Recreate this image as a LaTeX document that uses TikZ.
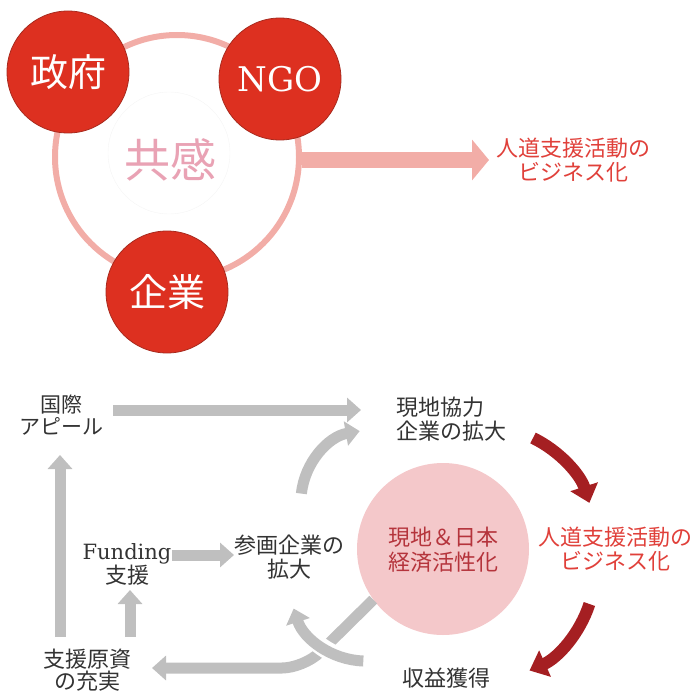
\documentclass[tikz,border=0pt]{standalone}
\usepackage{fontspec}
\newfontfamily\jpfont{Noto Sans CJK JP}
\newfontfamily\latfont{DejaVu Serif}
\usetikzlibrary{arrows.meta}
\definecolor{ringpink}{HTML}{F2ADA7}
\definecolor{redfill}{HTML}{DD3020}
\definecolor{redline}{HTML}{A82A1E}
\definecolor{empathy}{HTML}{E9A2B4}
\definecolor{redtext}{HTML}{E0403A}
\definecolor{darktext}{HTML}{333333}
\definecolor{arrowgray}{HTML}{BFBFBF}
\definecolor{darkred}{HTML}{A51F22}
\definecolor{pinkfill}{HTML}{F4C8CA}
\definecolor{centertext}{HTML}{B5343C}
\begin{document}
\begin{tikzpicture}[x=1pt,y=-1pt,
  actor/.style={circle, fill=redfill, draw=redline, line width=0.8pt, minimum size=122pt, inner sep=0pt, text=white},
  txt/.style={inner sep=0pt, align=center, text=darktext, font=\jpfont\fontsize{22}{24}\selectfont},
  grayarrow/.style={draw=arrowgray, line width=11pt, -{Triangle[width=24pt,length=14pt]}},
  redarrow/.style={draw=darkred, line width=12pt, -{Triangle[width=28pt,length=17pt]}}]
\useasboundingbox (0,0) rectangle (695,695);
% ---------- top ----------
\node[circle, draw=ringpink, line width=6pt, minimum size=244pt, inner sep=0pt] (ring) at (177,157) {};
\coordinate (topTip) at (489,160);
\draw[draw=ringpink, line width=16pt, -{Triangle[width=40pt,length=17pt]}] (ring.east |- topTip) -- (topTip);
\node[circle, draw=black!4, fill=white, minimum size=122pt, inner sep=0pt] (inner) at (169,153) {};
\node[font=\jpfont\fontsize{46}{50}\selectfont, text=empathy, inner sep=0pt] (empathyText) at (170,160) {共感};
\node[actor, font=\jpfont\fontsize{38}{40}\selectfont] (gov) at (68,72) {政府};
\node[actor, font=\latfont\fontsize{34}{36}\selectfont] (ngo) at (280,79) {NGO};
\node[actor, font=\jpfont\fontsize{38}{40}\selectfont] (corp) at (167,292) {企業};
\node[txt, text=redtext] (humanTop) at (573,160) {人道支援活動の\\ビジネス化};
% ---------- bottom texts ----------
\node[txt, font=\jpfont\fontsize{21}{22}\selectfont] (appeal) at (61,415) {国際\\アピール};
\node[txt, align=left, anchor=west] (localCorp) at (396,419) {現地協力\\企業の拡大};
\node[txt] (funding) at (127,564) {{\latfont\fontsize{21}{24}\selectfont Funding}\\支援};
\node[txt] (join) at (289,557) {参画企業の\\拡大};
\node[txt, font=\jpfont\fontsize{22}{22}\selectfont] (resources) at (87,670) {支援原資\\の充実};
\node[circle, fill=pinkfill, minimum size=172pt, inner sep=0pt] (pink) at (443,549) {};
\node[txt, text=centertext, font=\jpfont\fontsize{22}{25}\selectfont] (centerText) at (443,549.5) {現地＆日本\\経済活性化};
\node[txt, text=redtext] (humanBot) at (615,549) {人道支援活動の\\ビジネス化};
\node[txt] (profit) at (446,678) {収益獲得};
% ---------- gray arrows ----------
\coordinate (a1s) at (113,410);
\coordinate (a1e) at (361,410);
\draw[grayarrow] (a1s) -- (a1e);
\coordinate (u1s) at (60,637);
\coordinate (u1e) at (60,455);
\draw[grayarrow] (u1s) -- (u1e);
\coordinate (u2s) at (130,637);
\coordinate (u2e) at (130,590);
\draw[grayarrow] (u2s) -- (u2e);
\coordinate (f1s) at (172,555);
\coordinate (f1e) at (234,555);
\draw[grayarrow] (f1s) -- (f1e);
\coordinate (g1s) at (301.4,493.6);
\draw[grayarrow] (g1s) arc[start angle=186, end angle=260, radius=71];
\coordinate (bend) at (304,668);
\coordinate (resTip) at (152,668);
\draw[grayarrow, rounded corners=22pt] (pink.-144) -- (bend) -- (resTip);
\coordinate (g2s) at (363.3,661);
\coordinate (g2w) at (346.3,658.4);
\draw[white, line width=18pt] (g2w) arc[start angle=105, end angle=145, radius=76];
\draw[grayarrow] (g2s) arc[start angle=92, end angle=162, radius=76];
% ---------- red arrows ----------
\coordinate (r1s) at (533,438);
\draw[redarrow] (r1s) arc[start angle=-64, end angle=-18, radius=110];
\coordinate (r2s) at (589.4,604);
\draw[redarrow] (r2s) arc[start angle=18, end angle=66, radius=110];
\end{tikzpicture}
\end{document}
